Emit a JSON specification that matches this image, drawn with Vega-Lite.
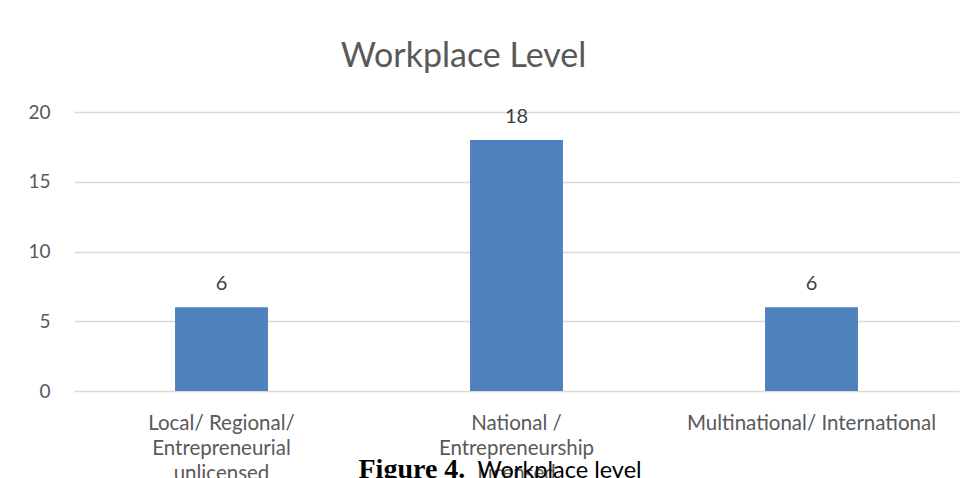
{
  "$schema": "https://vega.github.io/schema/vega-lite/v6.json",
  "autosize": "none",
  "width": 885,
  "height": 279,
  "padding": {"left": 74, "top": 112, "right": 18, "bottom": 87},
  "background": "white",
  "config": {"view": {"stroke": null}},
  "title": {
    "text": "Workplace Level",
    "font": "Lato",
    "fontSize": 34,
    "fontWeight": "normal",
    "color": "#595959",
    "anchor": "middle",
    "dx": -53,
    "offset": 29
  },
  "data": {
    "values": [
      {"level": "Local/ Regional/ Entrepreneurial unlicensed", "count": 6},
      {"level": "National / Entrepreneurship Licensed", "count": 18},
      {"level": "Multinational/ International", "count": 6}
    ]
  },
  "encoding": {
    "x": {
      "field": "level",
      "type": "nominal",
      "sort": null,
      "scale": {"paddingInner": 0.685, "paddingOuter": 0.3425},
      "axis": {
        "labelAngle": 0,
        "labelFont": "Lato",
        "labelFontSize": 20.5,
        "labelColor": "#595959",
        "labelLineHeight": 25,
        "labelPadding": 22,
        "labelLimit": 400,
        "labelExpr": "datum.value == 'Local/ Regional/ Entrepreneurial unlicensed' ? ['Local/ Regional/', 'Entrepreneurial', 'unlicensed'] : datum.value == 'National / Entrepreneurship Licensed' ? ['National /', 'Entrepreneurship', 'Licensed'] : datum.label",
        "ticks": false,
        "domain": false,
        "title": "Figure 4.",
        "titleFont": "Liberation Serif",
        "titleFontSize": 28,
        "titleFontWeight": "bold",
        "titleColor": "black",
        "titleX": 284,
        "titleY": 86,
        "titleAlign": "left",
        "titleAnchor": "start",
        "titleBaseline": "alphabetic"
      }
    },
    "y": {
      "field": "count",
      "type": "quantitative",
      "scale": {"domain": [0, 20]},
      "axis": {
        "values": [0, 5, 10, 15, 20],
        "ticks": false,
        "domain": false,
        "labelFont": "Lato",
        "labelFontSize": 19,
        "labelColor": "#595959",
        "labelPadding": 24,
        "gridColor": "#d9d9d9",
        "gridWidth": 1.3,
        "title": "Workplace level",
        "titleFont": "Lato",
        "titleFontSize": 23.5,
        "titleFontWeight": "normal",
        "titleColor": "black",
        "titleAngle": 0,
        "titleX": 403,
        "titleY": 365,
        "titleAlign": "left",
        "titleAnchor": "start",
        "titleBaseline": "alphabetic"
      }
    }
  },
  "layer": [
    {"mark": {"type": "bar", "color": "#4f81bd"}},
    {
      "mark": {"type": "text", "baseline": "bottom", "dy": -13, "font": "Lato", "fontSize": 20, "color": "#404040"},
      "encoding": {"text": {"field": "count", "type": "quantitative"}}
    }
  ]
}
